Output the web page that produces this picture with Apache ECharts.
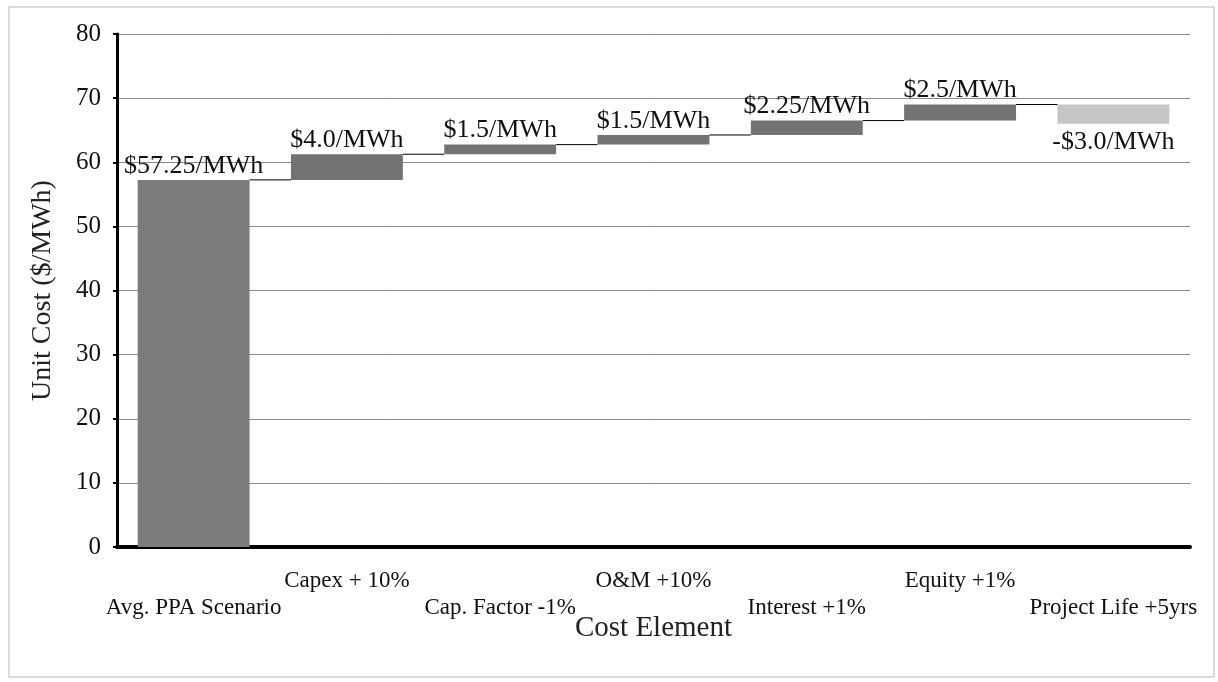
<!DOCTYPE html>
<html>
<head>
<meta charset="utf-8">
<script src="https://cdn.jsdelivr.net/npm/echarts@6/dist/echarts.min.js"></script>
<style>
  html, body { margin: 0; padding: 0; background: #fff; }
  #main { width: 1218px; height: 682px; }
</style>
</head>
<body>
<div id="main"></div>
<script>
// data
var categories = ['Avg. PPA Scenario', 'Capex + 10%', 'Cap. Factor -1%', 'O&M +10%',
                  'Interest +1%', 'Equity +1%', 'Project Life +5yrs'];
var deltas = [57.25, 4.0, 1.5, 1.5, 2.25, 2.5, -3.0];
var valueLabels = ['$57.25/MWh', '$4.0/MWh', '$1.5/MWh', '$1.5/MWh',
                   '$2.25/MWh', '$2.5/MWh', '-$3.0/MWh'];
var yTicks = [0, 10, 20, 30, 40, 50, 60, 70, 80];

var serif = "'Liberation Serif', 'Times New Roman', serif";
var barFrac = 0.73;

// waterfall: start/end of each step
var ends = [], bases = [], heights = [];
var run = 0;
deltas.forEach(function(d, i) {
    var start = i === 0 ? 0 : run;
    run = start + d;
    ends.push(run);
    bases.push(Math.min(start, run));
    heights.push(Math.abs(d));
});

var barData = heights.map(function(h, i) {
    var color = i === 0 ? '#7c7c7c' : (deltas[i] < 0 ? '#c6c6c6' : '#737373');
    return {
        value: h,
        itemStyle: { color: color },
        label: { position: deltas[i] < 0 ? 'bottom' : 'top', distance: deltas[i] < 0 ? 5 : 1 }
    };
});

// connector lines between consecutive bars
var connData = ends.slice(0, ends.length - 1).map(function(v, i) { return [i, v]; });

var chart = echarts.init(document.getElementById('main'));
chart.setOption({
    animation: false,
    backgroundColor: '#fff',
    graphic: [{
        type: 'rect',
        shape: { x: 9, y: 7, width: 1205, height: 670 },
        style: { fill: 'none', stroke: '#cfcfcf', lineWidth: 1.5 },
        silent: true
    }],
    grid: { left: 117, right: 28, top: 34, bottom: 135 },
    xAxis: {
        type: 'category',
        data: categories,
        name: 'Cost Element',
        nameLocation: 'middle',
        nameGap: 67,
        nameMoveOverlap: false,
        nameTextStyle: { fontFamily: serif, fontSize: 29, color: '#222' },
        axisLine: { lineStyle: { color: '#000', width: 4 } },
        axisTick: { show: false },
        axisLabel: {
            interval: 0,
            margin: 20,
            fontFamily: serif,
            fontSize: 23,
            color: '#111',
            lineHeight: 27,
            formatter: function(v, i) { return i % 2 === 0 ? '\n' + v : v; }
        },
        splitLine: { show: false }
    },
    yAxis: {
        type: 'value',
        min: yTicks[0],
        max: yTicks[yTicks.length - 1],
        interval: 10,
        name: 'Unit Cost ($/MWh)',
        nameLocation: 'middle',
        nameGap: 60,
        nameMoveOverlap: false,
        nameTextStyle: { fontFamily: serif, fontSize: 28, color: '#222' },
        axisLine: { show: true, lineStyle: { color: '#000', width: 3 } },
        axisTick: { show: true, length: 4, lineStyle: { color: '#000', width: 2 } },
        axisLabel: { fontFamily: serif, fontSize: 25, color: '#111', margin: 16 },
        splitLine: { lineStyle: { color: '#8a8a8a', width: 1 } }
    },
    series: [{
        type: 'bar',
        stack: 'wf',
        data: bases,
        barWidth: (barFrac * 100) + '%',
        itemStyle: { color: 'transparent' },
        silent: true
    }, {
        type: 'bar',
        stack: 'wf',
        data: barData,
        label: {
            show: true,
            fontFamily: serif,
            fontSize: 26,
            color: '#111',
            formatter: function(p) { return valueLabels[p.dataIndex]; }
        }
    }, {
        type: 'custom',
        data: connData,
        silent: true,
        z: 5,
        renderItem: function(params, api) {
            var i = api.value(0);
            var p0 = api.coord([i, api.value(1)]);
            var p1 = api.coord([i + 1, api.value(1)]);
            var hw = api.size([1, 0])[0] * barFrac / 2;
            return {
                type: 'line',
                shape: { x1: p0[0] + hw, y1: p0[1], x2: p1[0] - hw, y2: p1[1] },
                style: { stroke: '#000', lineWidth: 1 }
            };
        }
    }]
});
</script>
</body>
</html>
